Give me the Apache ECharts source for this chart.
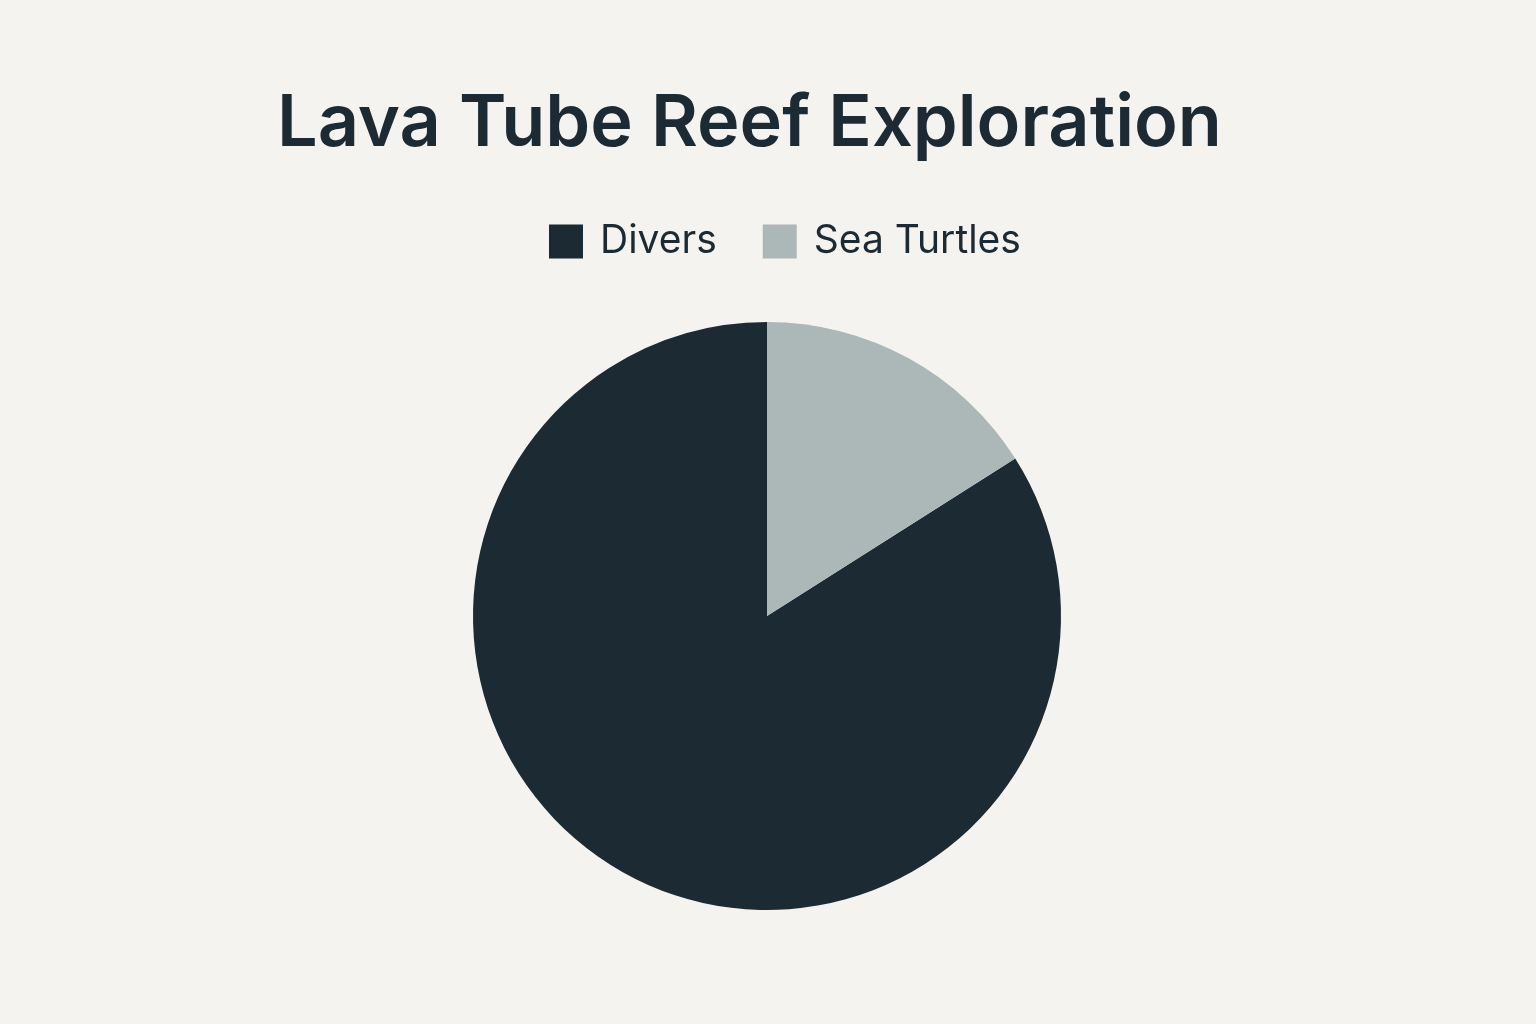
<!DOCTYPE html>
<html>
<head>
<meta charset="utf-8">
<title>Lava Tube Reef Exploration</title>
<script src="https://cdn.jsdelivr.net/npm/echarts@6/dist/echarts.min.js"></script>
<style>
  html, body { margin: 0; padding: 0; background: #f5f3ef; }
  #chart { width: 1536px; height: 1024px; }
</style>
</head>
<body>
<div id="chart"></div>
<script>
  // values (percent of sightings)
  const categories = ['Divers', 'Sea Turtles'];
  const shares = [84, 16];
  const colors = ['#1c2a33', '#abb8b7'];

  const chart = echarts.init(document.getElementById('chart'));

  chart.setOption({
    backgroundColor: '#f5f3ef',
    animation: false,
    title: {
      text: 'Lava Tube Reef Exploration',
      left: 272,
      top: 83,
      textStyle: {
        fontFamily: 'Inter',
        fontWeight: 600,
        fontSize: 72,
        color: '#1c2a33'
      }
    },
    legend: {
      data: categories,
      left: 544,
      top: 217,
      icon: 'rect',
      itemWidth: 34,
      itemHeight: 34,
      itemGap: 46,
      textStyle: {
        fontFamily: 'Inter',
        fontSize: 39,
        color: '#1c2a33',
        padding: [0, 0, 0, 12]
      }
    },
    series: [{
      type: 'pie',
      center: [767, 616],
      radius: 294,
      // Divers starts where Sea Turtles ends, so Sea Turtles sits right after 12 o'clock
      startAngle: 90 - 360 * shares[1] / 100,
      label: { show: false },
      labelLine: { show: false },
      emphasis: { disabled: true },
      itemStyle: { borderWidth: 0 },
      data: categories.map((name, i) => ({
        name: name,
        value: shares[i],
        itemStyle: { color: colors[i] }
      }))
    }]
  });
</script>
</body>
</html>
